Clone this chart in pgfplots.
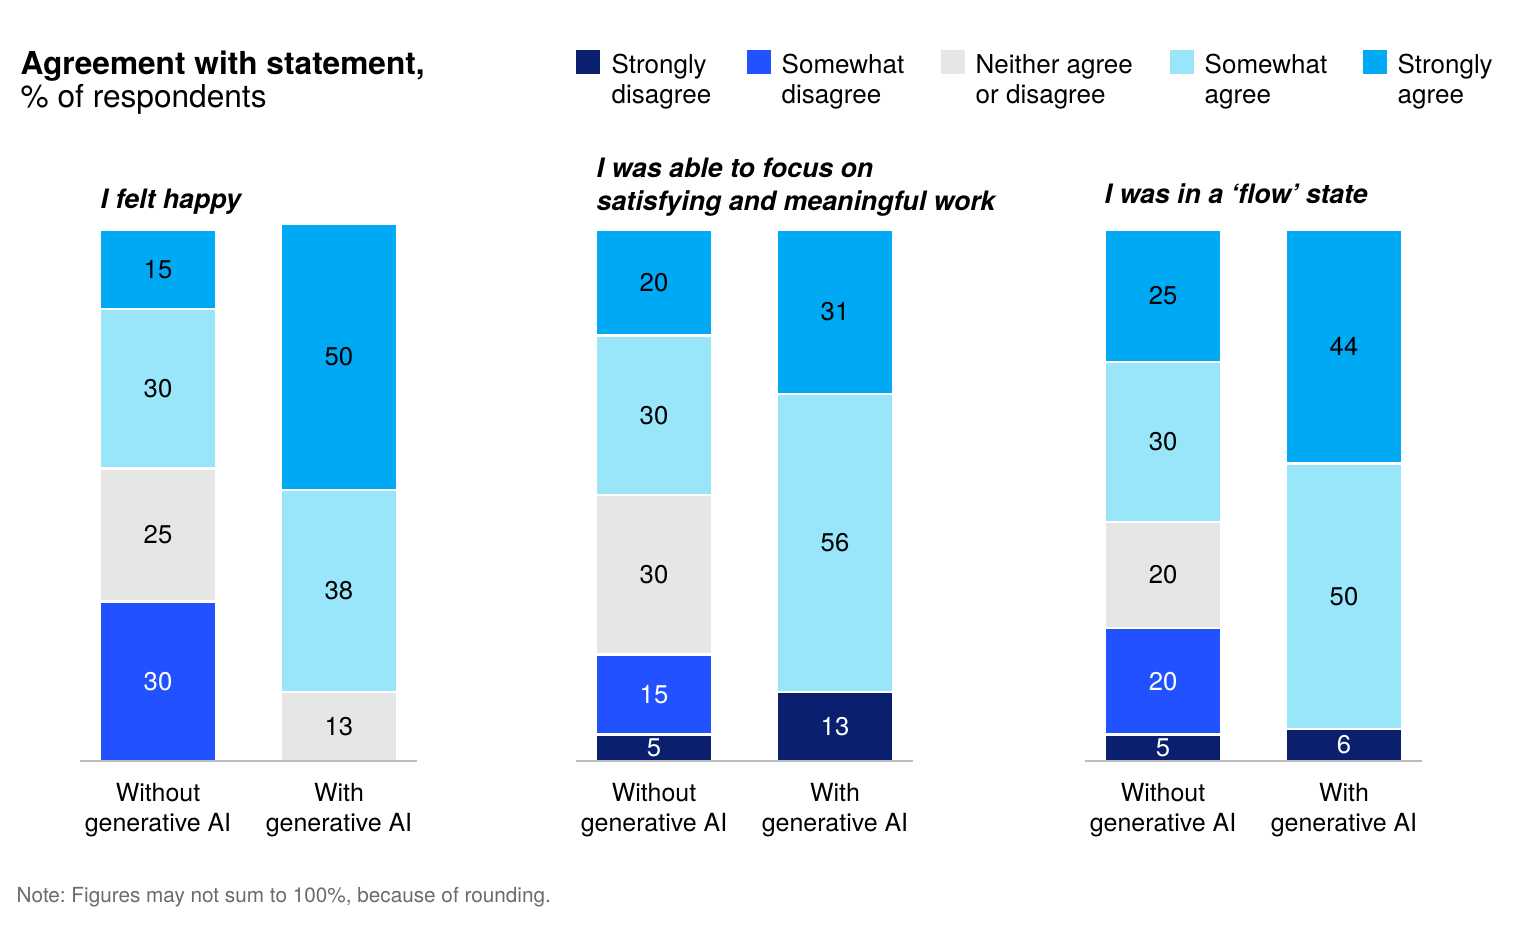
\documentclass[border=0pt]{standalone}
\usepackage{pgfplots}
\pgfplotsset{compat=1.18}
\usepackage{fontspec}
\setmainfont{TeX Gyre Heros}
\frenchspacing

\definecolor{sdis}{HTML}{0A1F6E}
\definecolor{swdis}{HTML}{2251FF}
\definecolor{neither}{HTML}{E6E6E6}
\definecolor{swagr}{HTML}{99E5FA}
\definecolor{sagr}{HTML}{00A9F4}
\definecolor{linegray}{HTML}{BDBDBD}
\definecolor{notegray}{HTML}{6B6B6B}

\newcommand{\barfont}{\fontsize{7.3}{8.5}\selectfont}
\newcommand{\legfont}{\fontsize{7.4}{8.5}\selectfont}

\pgfplotsset{
  panel/.style={
    ybar stacked, bar width=1.16cm,
    scale only axis, width=3.37cm, height=5.37cm,
    xmin=-0.431, xmax=1.431, ymin=0, ymax=101,
    axis x line*=bottom, axis y line=none,
    x axis line style={draw=linegray, line width=0.15mm, -},
    axis on top,
    xtick={0,1},
    xticklabels={Without\\generative AI, With\\generative AI},
    major tick length=0pt,
    xticklabel style={align=center, font=\fontsize{7.1}{8.5}\selectfont,
                      inner sep=0pt, yshift=-2.2mm},
    ytick=\empty,
    clip=false,
    /pgf/number format/assume math mode=true,
    visualization depends on=rawy \as \rawy,
    % empty label for zero segments; stacked labels already sit mid-segment
    nodes near coords={\ifdim\rawy pt>0pt \pgfmathprintnumber{\rawy}\fi},
    every node near coord/.append style={anchor=center, inner sep=0pt,
                      font=\barfont, text=black},
  },
  seg/.style={fill=#1, draw=white, line width=0.25mm},
}

\begin{document}
\begin{tikzpicture}
\path[use as bounding box, fill=white] (0,0) rectangle (15.24,-9.32);

% title
\node[anchor=base west, inner sep=0pt, font=\fontsize{9}{10}\selectfont\bfseries] at (0.20,-0.74) {Agreement with statement,};
\node[anchor=base west, inner sep=0pt, font=\fontsize{9}{10}\selectfont] at (0.20,-1.07) {\% of respondents};

% legend
\foreach \sx/\tx/\col/\la/\lb in {5.76/6.11/sdis/Strongly/disagree,
                                  7.47/7.81/swdis/Somewhat/disagree,
                                  9.41/9.75/neither/Neither agree/or disagree,
                                  11.70/12.04/swagr/Somewhat/agree,
                                  13.63/13.97/sagr/Strongly/agree}{
  \fill[\col] (\sx,-0.50) rectangle ++(0.24,-0.24);
  \node[anchor=base west, inner sep=0pt, font=\legfont] at (\tx,-0.735) {\la};
  \node[anchor=base west, inner sep=0pt, font=\legfont] at (\tx,-1.03) {\lb};
}

% panel titles
\node[anchor=base west, inner sep=0pt, font=\fontsize{7.6}{9}\selectfont\bfseries\itshape] at (1.00,-2.08) {I felt happy};
\node[anchor=base west, inner sep=0pt, font=\fontsize{7.6}{9}\selectfont\bfseries\itshape] at (5.96,-1.77) {I was able to focus on};
\node[anchor=base west, inner sep=0pt, font=\fontsize{7.6}{9}\selectfont\bfseries\itshape] at (5.96,-2.10) {satisfying and meaningful work};
\node[anchor=base west, inner sep=0pt, font=\fontsize{7.6}{9}\selectfont\bfseries\itshape] at (11.04,-2.03) {I was in a ‘flow’ state};

% panel 1: I felt happy
\begin{axis}[panel, at={(0.80cm,-7.61cm)}, anchor=south west]
\addplot[seg=sdis, every node near coord/.append style={text=white}] coordinates {(0,0) (1,0)};
\addplot[seg=swdis, every node near coord/.append style={text=white}] coordinates {(0,30) (1,0)};
\addplot[seg=neither] coordinates {(0,25) (1,13)};
\addplot[seg=swagr] coordinates {(0,30) (1,38)};
\addplot[seg=sagr] coordinates {(0,15) (1,50)};
\end{axis}

% panel 2: focus on satisfying work
\begin{axis}[panel, at={(5.76cm,-7.61cm)}, anchor=south west]
\addplot[seg=sdis, every node near coord/.append style={text=white}] coordinates {(0,5) (1,13)};
\addplot[seg=swdis, every node near coord/.append style={text=white}] coordinates {(0,15) (1,0)};
\addplot[seg=neither] coordinates {(0,30) (1,0)};
\addplot[seg=swagr] coordinates {(0,30) (1,56)};
\addplot[seg=sagr] coordinates {(0,20) (1,31)};
\end{axis}

% panel 3: flow state
\begin{axis}[panel, at={(10.85cm,-7.61cm)}, anchor=south west]
\addplot[seg=sdis, every node near coord/.append style={text=white}] coordinates {(0,5) (1,6)};
\addplot[seg=swdis, every node near coord/.append style={text=white}] coordinates {(0,20) (1,0)};
\addplot[seg=neither] coordinates {(0,20) (1,0)};
\addplot[seg=swagr] coordinates {(0,30) (1,50)};
\addplot[seg=sagr] coordinates {(0,25) (1,44)};
\end{axis}

% note
\node[anchor=base west, inner sep=0pt, text=notegray, font=\fontsize{5.9}{7}\selectfont] at (0.16,-9.02) {Note: Figures may not sum to 100\%, because of rounding.};
\end{tikzpicture}
\end{document}
